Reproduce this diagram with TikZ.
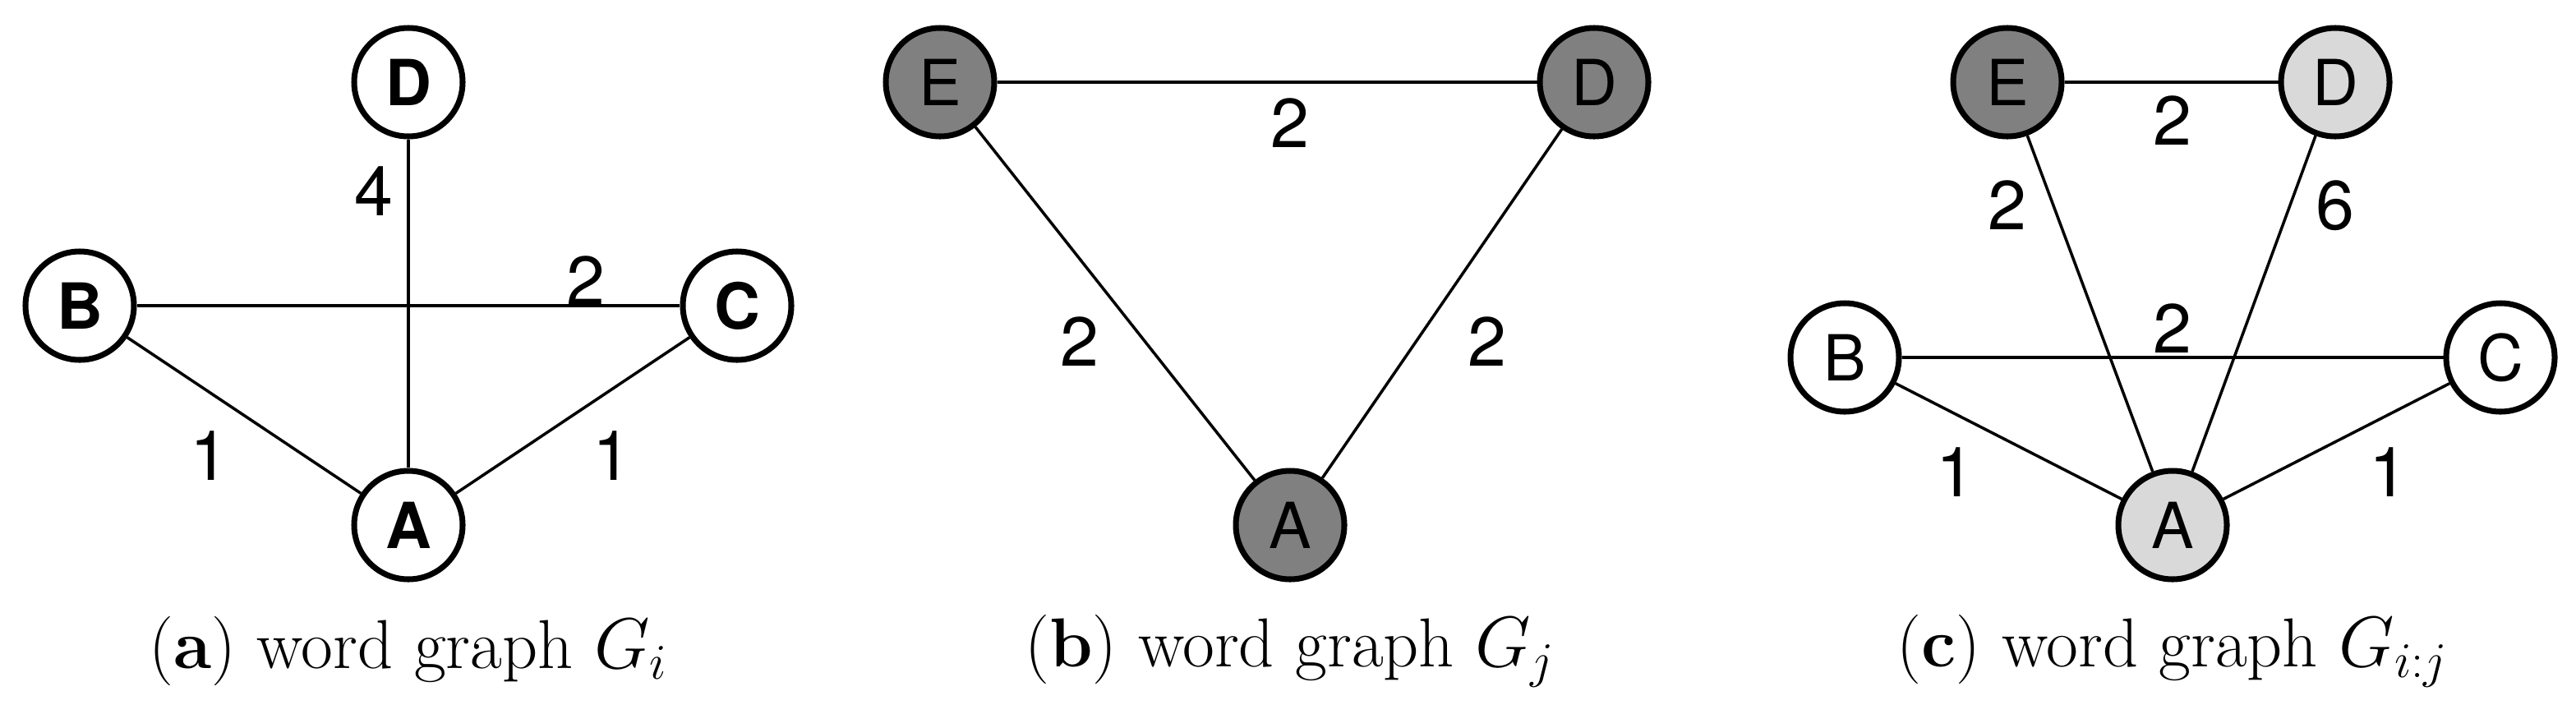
\documentclass[tikz,border=0pt]{standalone}
\usepackage{fontspec}
\newfontfamily\sansf{TeX Gyre Heros}
\usetikzlibrary{positioning}
\definecolor{darkfill}{gray}{0.5}
\definecolor{lightfill}{gray}{0.85}
\tikzset{
	word/.style={circle, draw=black, line width=2pt, fill=white, minimum size=1.32cm, inner sep=0pt, font=\sansf\fontsize{22}{22}\selectfont},
	bword/.style={word, font=\sansf\bfseries\fontsize{22}{22}\selectfont},
	dark/.style={fill=darkfill},
	light/.style={fill=lightfill},
	weight/.style={font=\sansf\fontsize{24}{24}\selectfont},
	link/.style={line width=1pt},
	caption/.style={font=\fontsize{24}{28}\selectfont}
}

\begin{document}
\begin{tikzpicture}[x=1cm, y=1cm]
		\useasboundingbox (0,0) rectangle (31.35,-8.57);
		% (a) word graph G_i
		\node[bword] (aD) at (4.97,-1.00) {D};
		\node[bword] (aB) at (0.97,-3.72) {B};
		\node[bword] (aC) at (8.97,-3.72) {C};
		\node[bword] (aA) at (4.97,-6.39) {A};
		\draw[link] (aD) -- (aA);
		\draw[link] (aB) -- (aC);
		\draw[link] (aB) -- (aA);
		\draw[link] (aC) -- (aA);
		\node[weight] (aw1) at (4.55,-2.33) {4};
		\node[weight] (aw2) at (7.13,-3.42) {2};
		\node[weight] (aw3) at (2.55,-5.55) {1};
		\node[weight] (aw4) at (7.45,-5.55) {1};
		\node[caption] (acap) at (4.97,-7.92) {(\textbf{a}) word graph $G_i$};
		% (b) word graph G_j
		\node[word, dark] (bE) at (11.44,-1.00) {E};
		\node[word, dark] (bD) at (19.40,-1.00) {D};
		\node[word, dark] (bA) at (15.70,-6.39) {A};
		\draw[link] (bE) -- (bD);
		\draw[link] (bE) -- (bA);
		\draw[link] (bD) -- (bA);
		\node[weight] (bw1) at (15.70,-1.50) {2};
		\node[weight] (bw2) at (13.14,-4.16) {2};
		\node[weight] (bw3) at (18.10,-4.16) {2};
		\node[caption] (bcap) at (15.70,-7.92) {(\textbf{b}) word graph $G_j$};
		% (c) word graph G_{i:j}
		\node[word, dark] (cE) at (24.43,-1.00) {E};
		\node[word, light] (cD) at (28.42,-1.00) {D};
		\node[word] (cB) at (22.45,-4.35) {B};
		\node[word] (cC) at (30.43,-4.35) {C};
		\node[word, light] (cA) at (26.44,-6.39) {A};
		\draw[link] (cE) -- (cD);
		\draw[link] (cE) -- (cA);
		\draw[link] (cD) -- (cA);
		\draw[link] (cB) -- (cC);
		\draw[link] (cB) -- (cA);
		\draw[link] (cC) -- (cA);
		\node[weight] (cw1) at (26.44,-1.47) {2};
		\node[weight] (cw2) at (24.43,-2.50) {2};
		\node[weight] (cw3) at (28.42,-2.50) {6};
		\node[weight] (cw4) at (26.44,-4.00) {2};
		\node[weight] (cw5) at (23.80,-5.75) {1};
		\node[weight] (cw6) at (29.07,-5.75) {1};
		\node[caption] (ccap) at (26.44,-7.92) {(\textbf{c}) word graph $G_{i:j}$};
\end{tikzpicture}
\end{document}
